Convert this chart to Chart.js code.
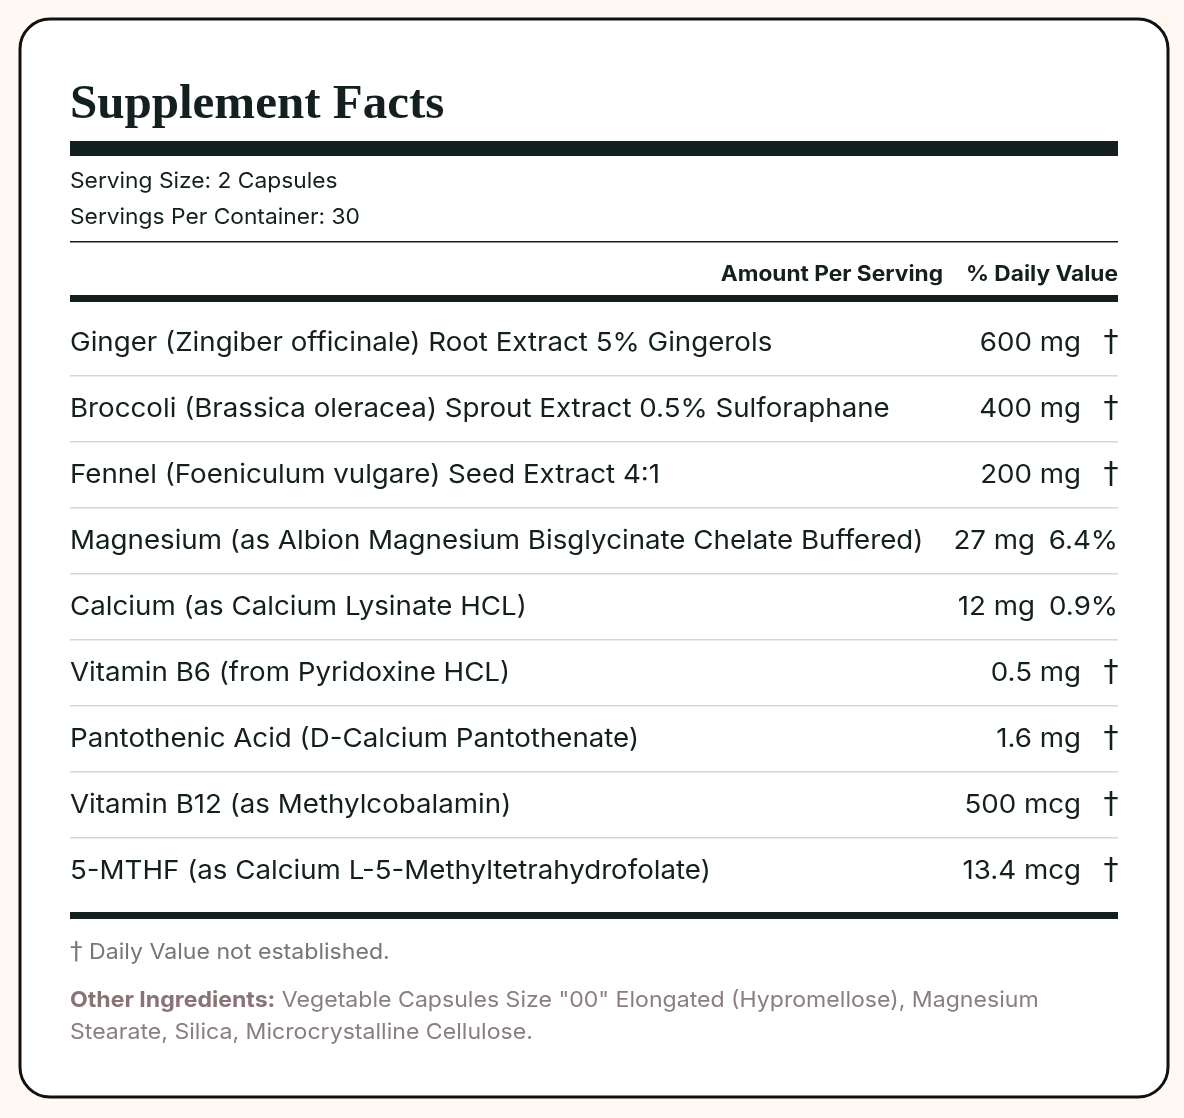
<!DOCTYPE html>
<html>
<head>
<meta charset="utf-8">
<script src="https://cdn.jsdelivr.net/npm/chart.js@4/dist/chart.umd.min.js"></script>
<style>
  html, body { margin: 0; padding: 0; background: #fff8f3; }
  canvas { display: block; }
</style>
</head>
<body>
<canvas id="facts" width="1184" height="1118"></canvas>
<script>
const ingredients = [
  'Ginger (Zingiber officinale) Root Extract 5% Gingerols',
  'Broccoli (Brassica oleracea) Sprout Extract 0.5% Sulforaphane',
  'Fennel (Foeniculum vulgare) Seed Extract 4:1',
  'Magnesium (as Albion Magnesium Bisglycinate Chelate Buffered)',
  'Calcium (as Calcium Lysinate HCL)',
  'Vitamin B6 (from Pyridoxine HCL)',
  'Pantothenic Acid (D-Calcium Pantothenate)',
  'Vitamin B12 (as Methylcobalamin)',
  '5-MTHF (as Calcium L-5-Methyltetrahydrofolate)'
];
const amounts = ['600 mg', '400 mg', '200 mg', '27 mg', '12 mg', '0.5 mg', '1.6 mg', '500 mcg', '13.4 mcg'];
const dailyValues = ['†', '†', '†', '6.4%', '0.9%', '†', '†', '†', '†'];
const title = 'Supplement Facts';
const servingLines = ['Serving Size: 2 Capsules', 'Servings Per Container: 30'];
const headers = ['Amount Per Serving', '% Daily Value'];
const footnote = 'Daily Value not established.';
const otherLabel = 'Other Ingredients:';
const otherLines = [' Vegetable Capsules Size "00" Elongated (Hypromellose), Magnesium', 'Stearate, Silica, Microcrystalline Cellulose.'];

const SANS = 'Inter, "DejaVu Sans", sans-serif';
const INK = '#13201f';

// draw text stretched horizontally, anchored at x
function text(ctx, str, x, y, align, sx) {
  const w = ctx.measureText(str).width * sx;
  let left = x;
  if (align === 'right') left = x - w;
  if (align === 'center') left = x - w / 2;
  ctx.save();
  ctx.textAlign = 'left';
  ctx.translate(left, y);
  ctx.scale(sx, 1);
  ctx.fillText(str, 0, 0);
  ctx.restore();
  return w;
}

const labelPlugin = {
  id: 'label',
  beforeDraw(chart) {
    const ctx = chart.ctx;
    const area = chart.chartArea;
    const y = chart.scales.y;
    const L = area.left, R = area.right;
    ctx.save();
    ctx.fillStyle = '#ffffff';
    ctx.strokeStyle = '#111';
    ctx.lineWidth = 3;
    ctx.beginPath();
    ctx.roundRect(20, 19, 1148, 1078, 30);
    ctx.fill();
    ctx.stroke();

    ctx.fillStyle = INK;
    ctx.textBaseline = 'alphabetic';
    ctx.font = 'bold 49px "Liberation Serif", serif';
    text(ctx, title, L, 118, 'left', 1.0);
    ctx.fillRect(L, 141, R - L, 15);

    ctx.textBaseline = 'middle';
    ctx.font = '22px ' + SANS;
    text(ctx, servingLines[0], L, 181, 'left', 1.035);
    text(ctx, servingLines[1], L, 217, 'left', 1.035);
    ctx.fillRect(L, 241, R - L, 1.5);

    ctx.font = 'bold 21px ' + SANS;
    text(ctx, headers[1], R, 275, 'right', 1.08);
    text(ctx, headers[0], 943, 275, 'right', 1.08);
    ctx.fillRect(L, 295, R - L, 7);

    ingredients.forEach((name, i) => {
      const cy = y.getPixelForValue(i);
      ctx.fillStyle = INK;
      ctx.font = '26px ' + SANS;
      text(ctx, name, L, cy, 'left', 1.065);
      const dv = dailyValues[i];
      if (dv === '†') {
        text(ctx, amounts[i], 1081, cy, 'right', 1.065);
        ctx.font = '30px "DejaVu Sans", sans-serif';
        text(ctx, dv, 1111, cy, 'center', 1.0);
      } else {
        text(ctx, amounts[i], 1035, cy, 'right', 1.065);
        text(ctx, dv, R, cy, 'right', 1.065);
      }
      if (i < ingredients.length - 1) {
        ctx.fillStyle = '#d6d6d6';
        ctx.fillRect(L, cy + 32, R - L, 1.5);
      }
    });

    ctx.fillStyle = INK;
    ctx.fillRect(L, area.bottom + 8, R - L, 7);

    ctx.fillStyle = '#77777a';
    ctx.font = '25px "DejaVu Sans", sans-serif';
    text(ctx, '†', L, 952, 'left', 1.0);
    ctx.font = '22px ' + SANS;
    text(ctx, footnote, L + 19, 952, 'left', 1.05);
    ctx.font = 'bold 22px ' + SANS;
    ctx.fillStyle = '#8a7377';
    const w = text(ctx, otherLabel, L, 1000, 'left', 1.05);
    ctx.font = '22px ' + SANS;
    ctx.fillStyle = '#8a7f80';
    text(ctx, otherLines[0], L + w, 1000, 'left', 1.05);
    text(ctx, otherLines[1], L, 1032, 'left', 1.05);
    ctx.restore();
  }
};

new Chart(document.getElementById('facts'), {
  type: 'bar',
  data: {
    labels: ingredients,
    datasets: [{ data: ingredients.map(() => null) }]
  },
  options: {
    indexAxis: 'y',
    responsive: false,
    animation: false,
    layout: { padding: { top: 310, bottom: 214, left: 70, right: 66 } },
    plugins: { legend: { display: false }, tooltip: { enabled: false } },
    scales: {
      x: { display: false, min: 0, max: 1 },
      y: { display: false, offset: true }
    }
  },
  plugins: [labelPlugin]
});
</script>
</body>
</html>
